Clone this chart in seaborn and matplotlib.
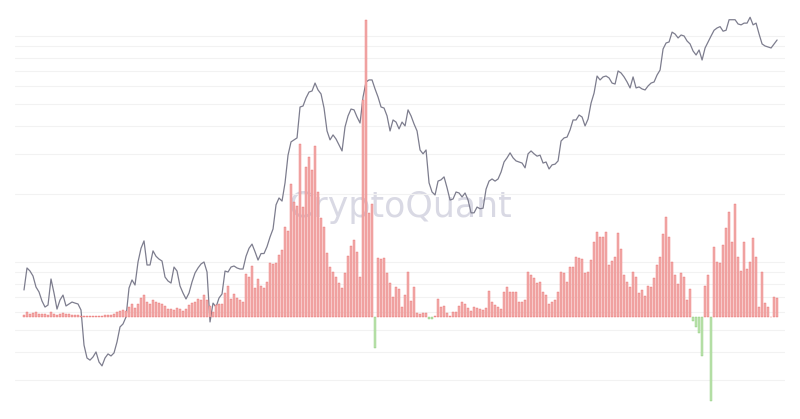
import matplotlib
matplotlib.use('Agg')
import matplotlib.pyplot as plt
from matplotlib.ticker import NullLocator
import numpy as np
import pandas as pd
import seaborn as sns

# Bitcoin price (thousand USD), sampled every 11 days from April 2018
price_k = [
    7.52, 9.41, 9.12, 8.67, 7.75, 7.37, 6.72, 6.32, 6.45, 8.41,
    7.29, 6.19, 6.79, 7.14, 6.39, 6.52, 6.65, 6.58, 6.52, 6.13,
    4.29, 3.76, 3.68, 3.80, 4.00, 3.61, 3.47, 3.76, 3.92, 3.84,
    3.96, 4.43, 5.16, 5.32, 5.71, 7.67, 8.33, 7.91, 10.0, 11.5,
    12.4, 9.70, 9.70, 11.2, 10.6, 10.3, 10.1, 8.58, 8.24, 8.07,
    9.50, 9.12, 7.83, 7.29, 6.86, 7.29, 8.16, 8.94, 9.41, 9.80,
    10.0, 9.03, 5.43, 6.58, 6.32, 6.93, 7.22, 9.12, 9.03, 9.50,
    9.60, 9.41, 9.31, 9.31, 10.6, 11.5, 12.0, 11.1, 10.2, 10.9,
    10.9, 11.7, 12.9, 14.0, 17.9, 19.2, 18.6, 22.4, 29.7, 34.0,
    34.7, 35.4, 48.5, 49.0, 53.2, 56.5, 57.1, 61.9, 57.7, 55.4,
    48.0, 38.0, 34.7, 36.5, 35.0, 32.9, 31.0, 39.6, 44.3, 47.5,
    47.1, 43.8, 41.2, 53.7, 62.6, 63.9, 63.9, 58.3, 53.7, 48.5,
    48.0, 44.3, 38.0, 42.5, 41.6, 38.8, 41.6, 40.0, 47.1, 44.3,
    40.8, 38.0, 31.3, 30.1, 31.3, 22.4, 20.4, 19.8, 22.8, 23.1,
    23.8, 21.3, 18.8, 19.0, 20.4, 20.2, 19.4, 20.2, 18.8, 16.5,
    16.5, 17.5, 17.2, 17.3, 21.0, 22.8, 23.3, 22.8, 23.3, 25.0,
    27.7, 28.9, 30.4, 28.9, 28.0, 27.7, 27.4, 26.1, 30.1, 31.0,
    30.1, 29.4, 29.7, 27.4, 27.7, 25.8, 26.9, 27.1, 28.0, 34.3,
    35.4, 35.7, 38.4, 42.5, 42.5, 44.7, 43.8, 40.0, 42.9, 50.5,
    55.9, 66.5, 63.9, 65.9, 66.5, 65.2, 61.9, 61.3, 70.0, 68.6,
    65.9, 62.6, 58.9, 65.9, 58.9, 59.5, 58.3, 57.7, 60.1, 61.9,
    62.6, 67.2, 70.7, 87.6, 93.1, 94.1, 104, 102, 98.0, 101,
    100, 95.0, 92.2, 85.8, 82.4, 86.7, 78.3, 88.5, 94.1, 100,
    106, 108.5, 110, 105, 106, 118, 118, 118, 113, 112,
    114, 114, 121, 112, 114, 102, 92.2, 90.3, 89.4, 88.5,
    92.2, 96.0,
]

# Indicator bars (positive = red, negative = green), same dates as the price
flow = [
    2.5, 5.5, 3.3, 4, 5, 3, 2.7, 2.7, 2, 5.5,
    3.5, 2.5, 3.5, 4, 3.3, 3.3, 2.3, 1.7, 2.3, 1.2,
    1, 1, 0.8, 1, 1, 1, 1.5, 1.7, 1.7, 1.7,
    3.3, 5, 6, 7.3, 6, 10, 12.7, 9.3, 12.7, 19,
    21.7, 15, 13.3, 17.3, 15, 14.3, 13.3, 10.7, 8.3, 8.3,
    7.3, 9.3, 8.3, 6, 8.3, 11.7, 14, 15, 17.7, 17.3,
    21.7, 16.7, 10.7, 5, 11.7, 13.3, 13.3, 24, 30.7, 18.3,
    23.3, 19, 17.3, 15, 43, 40, 50.7, 28.7, 38, 31,
    29.3, 35.3, 53.7, 52.7, 53.7, 62, 67, 90, 86.3, 133,
    115, 111, 173, 110, 150, 160, 147, 171, 125, 99,
    90, 64, 50, 45, 40, 33.7, 28.7, 43.7, 61, 71,
    77, 65, 40, 217, 297, 103.7, 113, -31, 58.7, 57.7,
    58.7, 43.7, 33.7, 20.3, 30, 27.7, 10, 22, 45, 16,
    30, 3.7, 3.5, 3.7, 4, -2.3, -2.3, 1.5, 17.7, 10,
    11.5, 4, 0.8, 5, 5.3, 11, 15, 13, 9, 6.5,
    10, 9, 7.7, 7, 9.5, 26, 15, 12.5, 10, 8,
    25, 30.5, 25, 25, 25, 15.5, 15.3, 17, 45.5, 42,
    39, 34, 35, 25, 22, 13, 15, 17, 25, 45,
    44, 35, 49.7, 50.5, 60, 58.7, 58, 44, 45.3, 57,
    75, 85, 80, 80, 85, 52, 56, 60, 84, 68,
    42, 35, 30, 45, 40, 24, 27, 21, 31, 30,
    39, 52, 60, 83, 100, 80, 55, 42, 33, 44,
    40, 17, 28, -3.7, -10, -15.7, -39, 31, 42, -83.7,
    70, 55, 53.7, 72, 88.7, 105, 75, 113, 60, 46.3,
    75, 48, 55, 79, 60, 10.3, 45, 14.3, 10, 0,
    20.3, 18.7,
]

# Log-scale price gridlines
grid_prices = [3000, 4000, 5000, 6000, 7000, 8000, 9000,
               10000, 20000, 30000, 40000, 50000, 60000, 70000, 80000, 90000, 100000]


def main():
    dates = pd.date_range('2018-04-15', periods=len(price_k), freq='11D')
    price = np.array(price_k) * 1000
    flow_arr = np.array(flow, dtype=float)

    sns.set_theme(style="white")

    fig = plt.figure(figsize=(8, 4.19), dpi=100)
    ax = fig.add_axes([15 / 800, 9 / 419, 770 / 800, 400 / 419])

    # --- price line ---
    sns.lineplot(x=dates, y=price, ax=ax, color='#7d7d8e', linewidth=0.9)
    ax.set_yscale('log')
    ax.set_ylim(2214, 130300)
    ax.set_xlim(dates[0] - pd.Timedelta(days=33), dates[-1] + pd.Timedelta(days=29))
    ax.set_yticks(grid_prices)
    ax.yaxis.set_minor_locator(NullLocator())
    ax.grid(axis='y', color='#f2f2f2', linewidth=0.8)
    ax.set_xlabel('')
    ax.set_ylabel('')
    for s in ax.spines.values():
        s.set_visible(False)

    # watermark
    ax.text(0.5, 0.5075, 'CryptoQuant', transform=ax.transAxes, ha='center', va='center',
            fontsize=25, color='#d9d9e4', zorder=0)

    # --- indicator bars ---
    ax2 = ax.twinx()
    face = np.where(flow_arr >= 0, '#f2b1af', '#c0e4b2')
    edge = np.where(flow_arr >= 0, '#e85a5b', '#78c264')
    ax2.bar(dates, flow_arr, width=7, color=face, edgecolor=edge, linewidth=0.25)
    ax2.set_ylim(-93, 307)
    ax2.set_xlim(ax.get_xlim())
    ax2.grid(False)
    for s in ax2.spines.values():
        s.set_visible(False)

    # twinx turns the left ticks back on, so hide them afterwards
    for a in (ax, ax2):
        a.tick_params(left=False, right=False, bottom=False,
                      labelleft=False, labelright=False, labelbottom=False)

    fig.savefig('out.png', dpi=100)


if __name__ == "__main__":
    main()
